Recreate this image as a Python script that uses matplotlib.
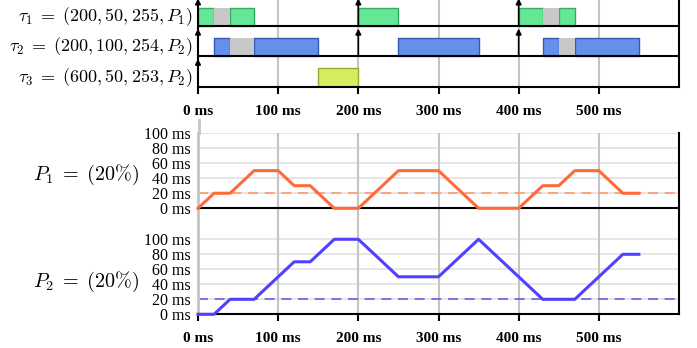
import matplotlib
matplotlib.use('Agg')
import matplotlib.pyplot as plt
from matplotlib.lines import Line2D

plt.rcParams['mathtext.fontset'] = 'cm'
plt.rcParams['font.family'] = ['Liberation Serif', 'DejaVu Serif']

# schedule (ms): running slots and blocked (gray) slots per task
tau1_run = [(0, 20), (40, 30), (200, 50), (400, 30), (450, 20)]
tau1_blk = [(20, 20), (430, 20)]
tau2_run = [(20, 20), (70, 80), (250, 100), (430, 20), (470, 80)]
tau2_blk = [(40, 30), (450, 20)]
tau3_run = [(150, 50)]
tau1_rel = [0, 200, 400]
tau2_rel = [0, 200, 400]
tau3_rel = [0]
task_labels = [r'$\tau_1 \;=\; (200, 50, 255, P_1)$',
               r'$\tau_2 \;=\; (200, 100, 254, P_2)$',
               r'$\tau_3 \;=\; (600, 50, 253, P_2)$']

# processor curves
p1_t = [0, 20, 40, 70, 100, 120, 140, 170, 200, 250, 300, 350, 400, 430, 450, 470, 500, 530, 550]
p1_v = [0, 20, 20, 50, 50, 30, 30, 0, 0, 50, 50, 0, 0, 30, 30, 50, 50, 20, 20]
p2_t = [0, 20, 40, 70, 120, 140, 170, 200, 250, 300, 350, 430, 470, 530, 550]
p2_v = [0, 0, 20, 20, 70, 70, 100, 100, 50, 50, 100, 20, 20, 80, 80]
p1_thr = 20
p2_thr = 20
proc_labels = [r'$P_1 \;=\; (20\%)$', r'$P_2 \;=\; (20\%)$']

xticks = [0, 100, 200, 300, 400, 500]
yticks = [0, 20, 40, 60, 80, 100]

W, H = 697, 348
fig = plt.figure(figsize=(W / 100, H / 100), dpi=100)

def box(top, bottom):
    return [198 / W, 1 - bottom / H, 481 / W, (bottom - top) / H]

GRID = '#c4c4c4'

# ---- gantt ----
ax = fig.add_axes(box(-4, 86.5))
ax.set_xlim(0, 600)
ax.set_ylim(0, 3)
ax.set_axisbelow(True)
for x in xticks[1:]:
    ax.axvline(x, color=GRID, lw=1.5, zorder=0)
for y in (1, 2):
    ax.axhline(y, color='black', lw=1.5, zorder=3)
ax.spines['top'].set_visible(False)
for s in ('left', 'right', 'bottom'):
    ax.spines[s].set_linewidth(1.5)

rows = [(2, tau1_run, tau1_blk, tau1_rel, '#64e896', '#3ca866'),
        (1, tau2_run, tau2_blk, tau2_rel, '#6490ea', '#3858b8'),
        (0, tau3_run, [], tau3_rel, '#d8ec60', '#9aab30')]
for y0, run, blk, rel, fc, ec in rows:
    ax.broken_barh(run, (y0, 0.6), facecolors=fc, edgecolors=ec, lw=1, zorder=2)
    if blk:
        ax.broken_barh(blk, (y0, 0.6), facecolors='#c8c8c8', edgecolors='none', zorder=2)
    for r in rel:
        ax.annotate('', xy=(r, y0 + 0.92), xytext=(r, y0),
                    arrowprops=dict(arrowstyle='-|>', color='black', lw=1.2,
                                    mutation_scale=8, shrinkA=0, shrinkB=0),
                    zorder=4)
for i, lab in enumerate(task_labels):
    fig.text(193 / W, 1 - [16.5, 47, 77.5][i] / H, lab, ha='right', va='center', fontsize=13)

ax.set_yticks([])
ax.set_xticks(xticks)
ax.set_xticklabels([f'{x} ms' for x in xticks], fontsize=11, fontweight='bold')
ax.tick_params(axis='x', direction='out', length=5, width=1.5, pad=8)

# ---- processor plots ----
def proc_axes(top, bottom, ytop, t, v, thr, color, dcolor, xlabels):
    a = fig.add_axes(box(top, bottom))
    a.patch.set_alpha(0)
    a.set_xlim(0, 600)
    a.set_ylim(0, ytop)
    for x in xticks[1:]:
        a.axvline(x, color=GRID, lw=1.5, zorder=1)
    for y in yticks[1:]:
        a.axhline(y, color='#e2e2e2', lw=1.2, zorder=0)
    a.spines['top'].set_visible(False)
    a.spines['left'].set_color(GRID)
    a.spines['left'].set_linewidth(2)
    a.spines['right'].set_linewidth(1.5)
    a.spines['bottom'].set_linewidth(1.5)
    a.plot([0, 600], [thr, thr], color=dcolor, lw=1.2, dashes=(6, 4), zorder=2)
    a.plot(t, v, color=color, lw=2.2, zorder=3, clip_on=False)
    a.set_yticks(yticks)
    a.set_yticklabels([f'{y} ms' for y in yticks], fontsize=11.5)
    a.tick_params(axis='y', length=0, pad=5)
    a.set_xticks(xticks)
    if xlabels:
        a.set_xticklabels([f'{x} ms' for x in xticks], fontsize=11, fontweight='bold')
        a.tick_params(axis='x', direction='out', length=5, width=1.5, pad=8)
    else:
        a.set_xticklabels([])
        a.tick_params(axis='x', length=0)
    return a

proc_axes(208.3, 314.3, 141.3, p2_t, p2_v, p2_thr, '#5040ff', '#6a5cf0', True)
proc_axes(133, 208.3, 100, p1_t, p1_v, p1_thr, '#ff6a3a', '#ff9a6a', False)
fig.add_artist(Line2D([199 / W, 199 / W], [1 - 120 / H, 1 - 133 / H], color=GRID, lw=2))

fig.text(86 / W, 1 - 175 / H, proc_labels[0], ha='center', va='center', fontsize=14.5)
fig.text(86 / W, 1 - 281.5 / H, proc_labels[1], ha='center', va='center', fontsize=14.5)

fig.savefig('out.png', dpi=100)
